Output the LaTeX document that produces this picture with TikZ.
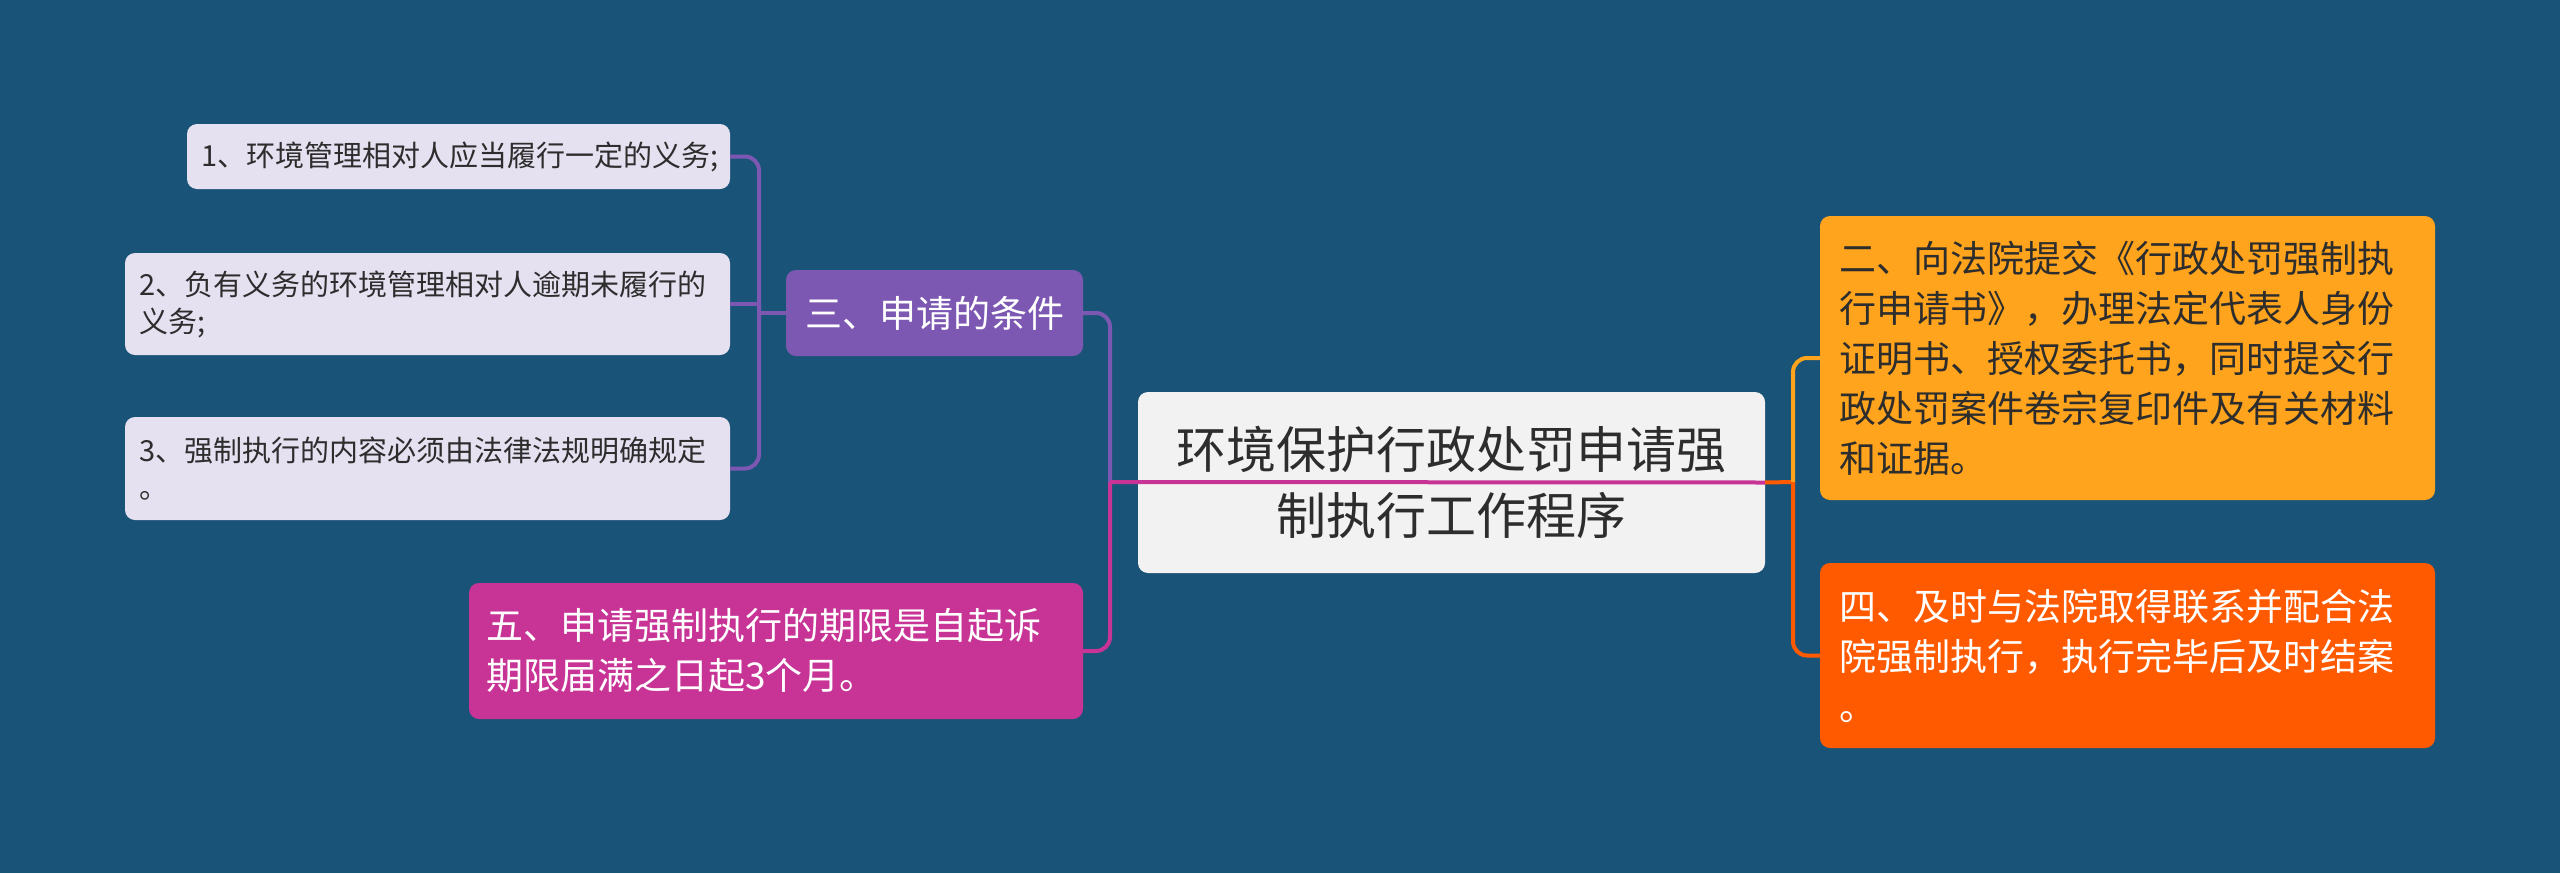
\documentclass[tikz,border=0pt]{standalone}
\usepackage{fontspec}
\setmainfont{Noto Sans CJK SC}
\definecolor{bgc}{RGB}{26,83,120}
\definecolor{leaffill}{RGB}{230,225,241}
\definecolor{purp}{RGB}{124,88,178}
\definecolor{mag}{RGB}{199,52,150}
\definecolor{rootfill}{RGB}{242,242,242}
\definecolor{yel}{RGB}{255,164,28}
\definecolor{org}{RGB}{255,90,0}
\definecolor{dark}{RGB}{45,45,45}
\tikzset{
  box/.style={rounded corners=10pt, inner ysep=0pt, align=left},
  leaf/.style={box, fill=leaffill, text=dark, font=\fontsize{29}{37}\selectfont},
  mid/.style={box, font=\fontsize{37}{50}\selectfont},
  link/.style={line width=4pt, rounded corners=14pt}
}
\begin{document}
\begin{tikzpicture}[x=1pt,y=-1pt]
\useasboundingbox (0,0) rectangle (2560,873);
\fill[bgc] (0,0) rectangle (2560,873);

\coordinate (jL) at (759,313);
\coordinate (jM) at (1110,482);
\coordinate (jR) at (1793,482);

% nodes
\node[leaf, text width=515pt, inner xsep=14pt, minimum height=65pt] (L1) at (458.5,156.5) {1、环境管理相对人应当履行一定的义务;};
\node[leaf, text width=577pt, inner xsep=14pt, minimum height=102pt] (L2) at (427.5,304) {2、负有义务的环境管理相对人逾期未履行的\\义务;};
\node[leaf, text width=577pt, inner xsep=14pt, minimum height=103pt] (L3) at (427.5,468.5) {3、强制执行的内容必须由法律法规明确规定\\。};
\node[mid, fill=purp, text=white, align=center, text width=259pt, inner xsep=19pt, minimum height=86pt] (T3) at (934.5,313) {三、申请的条件};
\node[mid, fill=mag, text=white, text width=580pt, inner xsep=17pt, minimum height=136pt] (B5) at (776,651) {五、申请强制执行的期限是自起诉\\期限届满之日起3个月。};
\node[box, fill=rootfill, text=dark, align=center, font=\fontsize{50}{66}\selectfont, text width=550pt, inner xsep=38.5pt, minimum height=181pt] (C) at (1451.5,482.5) {环境保护行政处罚申请强\\制执行工作程序};
\node[mid, fill=yel, text=dark, text width=577pt, inner xsep=19pt, minimum height=284pt] (B2) at (2127.5,358) {二、向法院提交《行政处罚强制执\\行申请书》，办理法定代表人身份\\证明书、授权委托书，同时提交行\\政处罚案件卷宗复印件及有关材料\\和证据。};
\node[mid, fill=org, text=white, text width=577pt, inner xsep=19pt, minimum height=185pt] (B4) at (2127.5,655.5) {四、及时与法院取得联系并配合法\\院强制执行，执行完毕后及时结案\\。};

% connectors
\draw[link, purp] (L1.east) -| (jL);
\draw[link, purp] (L3.east) -| (jL);
\draw[link, purp] (L2.east) -- (L2.east -| jL);
\draw[link, purp] (T3.west) -- (jL);
\draw[link, purp] (T3.east) -| (jM);
\draw[link, mag] (B5.east) -| (jM);
\draw[link, mag] (jM) -- (C.east);
\draw[link, org] (C.east) -- (jR);
\draw[link, yel] (B2.west) -| (jR);
\draw[link, org] (B4.west) -| (jR);
\end{tikzpicture}
\end{document}
